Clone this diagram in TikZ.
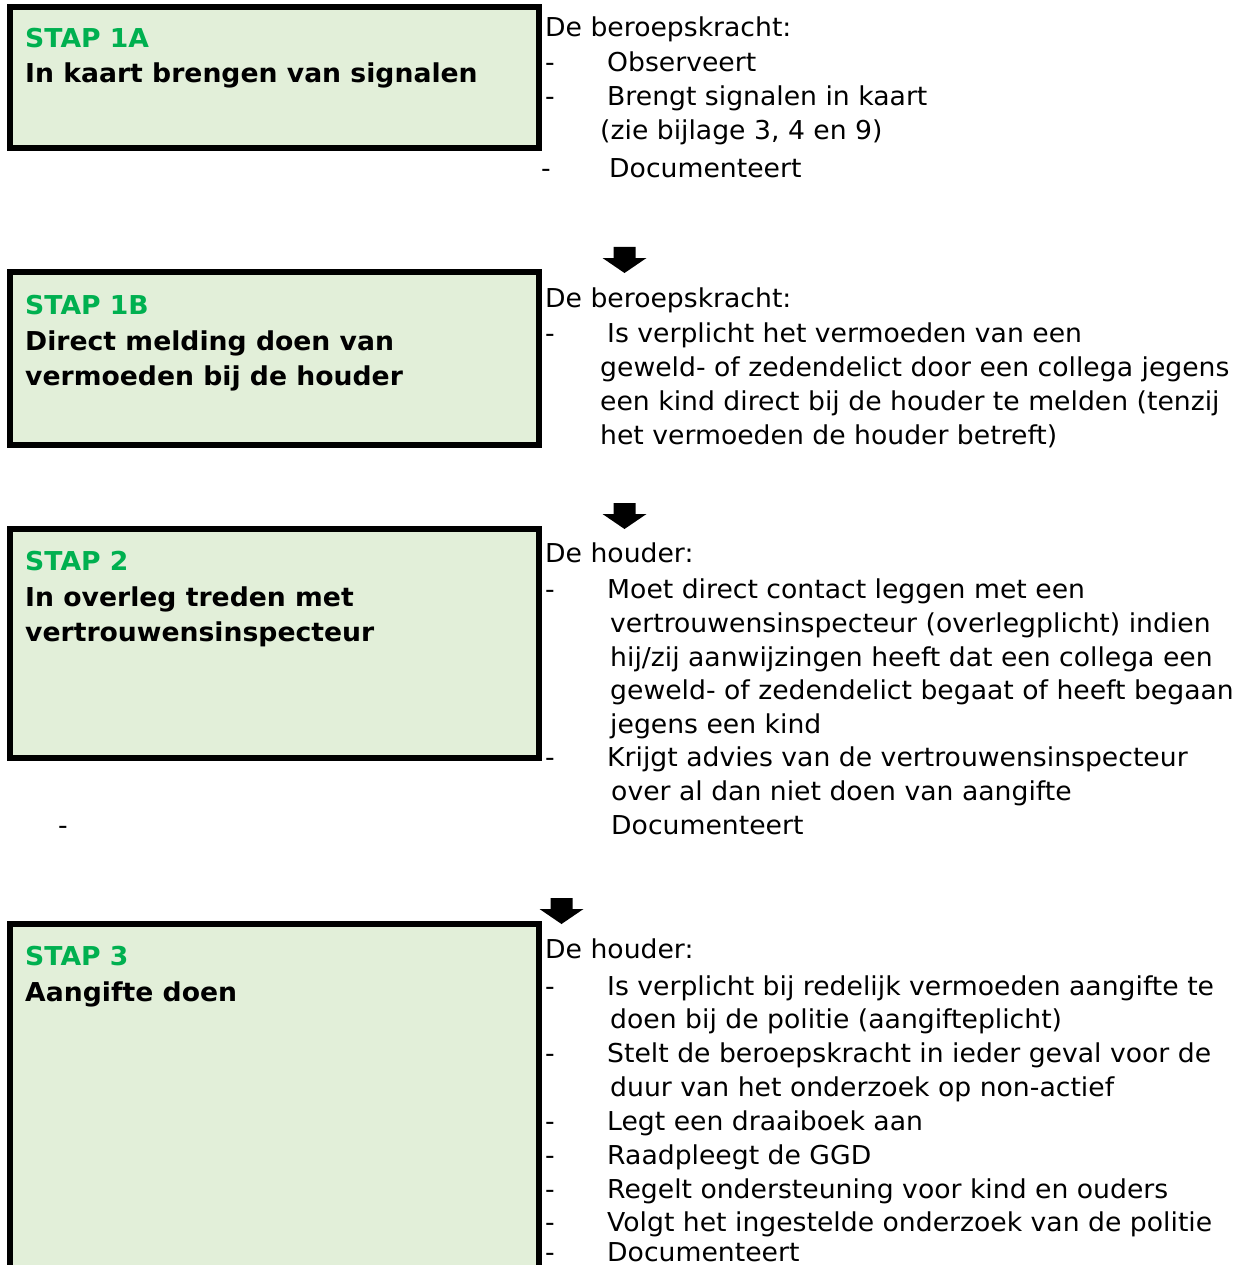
\documentclass[tikz,border=0pt]{standalone}
\usepackage{fontspec}
\setmainfont[FakeStretch=1.025]{DejaVu Sans}
\definecolor{boxfill}{HTML}{E2EFD9}
\definecolor{stapgreen}{HTML}{00B050}
\newcommand{\blockarr}[2]{% x centre, y top
  \fill[black] (#1-11,#2) -- (#1+11,#2) -- (#1+11,#2+11) -- (#1+22,#2+11)
    -- (#1,#2+26) -- (#1-22,#2+11) -- (#1-11,#2+11) -- cycle;}
\begin{document}
\begin{tikzpicture}[x=1pt,y=-1pt,
  stepbox/.style={draw=black, line width=6pt, fill=boxfill, anchor=north west, inner sep=0pt, outer sep=0pt},
  txt/.style={anchor=base west, inner sep=0pt, font=\fontsize{26}{34}\selectfont},
  ttl/.style={anchor=base west, inner sep=0pt, font=\fontsize{26}{34}\selectfont\bfseries},
  stap/.style={ttl, text=stapgreen}]
\useasboundingbox (0,0) rectangle (1241,1265);
\clip (0,0) rectangle (1241,1265);
\fill[white] (0,0) rectangle (1241,1265);

% boxes
\node[stepbox, minimum width=529pt, minimum height=141pt] (b1) at (10,7) {};
\node[stepbox, minimum width=529pt, minimum height=173pt] (b2) at (10,272) {};
\node[stepbox, minimum width=529pt, minimum height=229pt] (b3) at (10,529) {};
\node[stepbox, minimum width=529pt, minimum height=480pt] (b4) at (10,924) {};

% box titles
\node[stap] (s1) at (25,48) {STAP 1A};
\node[ttl] (t1) at (25,83) {In kaart brengen van signalen};
\node[stap] (s2) at (25,314) {STAP 1B};
\node[ttl] (t2a) at (25,350) {Direct melding doen van};
\node[ttl] (t2b) at (25,385) {vermoeden bij de houder};
\node[stap] (s3) at (25,570) {STAP 2};
\node[ttl] (t3a) at (25,606) {In overleg treden met};
\node[ttl] (t3b) at (25,641) {vertrouwensinspecteur};
\node[stap] (s4) at (25,965) {STAP 3};
\node[ttl] (t4) at (25,1001) {Aangifte doen};

% arrows
\blockarr{624.5}{247}
\blockarr{624.5}{503}
\blockarr{561.5}{898}

% text 1
\node[txt] (h1) at (545,37) {De beroepskracht:};
\node[txt] (d11) at (545,72) {-};
\node[txt] (a11) at (607,72) {Observeert};
\node[txt] (d12) at (545,106) {-};
\node[txt] (a12) at (607,106) {Brengt signalen in kaart};
\node[txt] (a12b) at (600,140) {(zie bijlage 3, 4 en 9)};
\node[txt] (d13) at (541,178) {-};
\node[txt] (a13) at (609,178) {Documenteert};

% text 2
\node[txt] (h2) at (545,307) {De beroepskracht:};
\node[txt] (d21) at (545,342) {-};
\node[txt] (a21) at (607,342) {Is verplicht het vermoeden van een};
\node[txt] (a21b) at (600,376) {geweld- of zedendelict door een collega jegens};
\node[txt] (a21c) at (600,410) {een kind direct bij de houder te melden (tenzij};
\node[txt] (a21d) at (600,444) {het vermoeden de houder betreft)};

% text 3
\node[txt] (h3) at (545,562) {De houder:};
\node[txt] (d31) at (545,598) {-};
\node[txt] (a31) at (607,598) {Moet direct contact leggen met een};
\node[txt] (a31b) at (610,632) {vertrouwensinspecteur (overlegplicht) indien};
\node[txt] (a31c) at (610,666) {hij/zij aanwijzingen heeft dat een collega een};
\node[txt] (a31d) at (610,699) {geweld- of zedendelict begaat of heeft begaan};
\node[txt] (a31e) at (610,733) {jegens een kind};
\node[txt] (d32) at (545,766) {-};
\node[txt] (a32) at (607,766) {Krijgt advies van de vertrouwensinspecteur};
\node[txt] (a32b) at (611,800) {over al dan niet doen van aangifte};
\node[txt] (d33) at (58,834) {-};
\node[txt] (a33) at (611,834) {Documenteert};

% text 4
\node[txt] (h4) at (545,958) {De houder:};
\node[txt] (d41) at (545,995) {-};
\node[txt] (a41) at (607,995) {Is verplicht bij redelijk vermoeden aangifte te};
\node[txt] (a41b) at (610,1028) {doen bij de politie (aangifteplicht)};
\node[txt] (d42) at (545,1062) {-};
\node[txt] (a42) at (607,1062) {Stelt de beroepskracht in ieder geval voor de};
\node[txt] (a42b) at (610,1096) {duur van het onderzoek op non-actief};
\node[txt] (d43) at (545,1130) {-};
\node[txt] (a43) at (607,1130) {Legt een draaiboek aan};
\node[txt] (d44) at (545,1164) {-};
\node[txt] (a44) at (607,1164) {Raadpleegt de GGD};
\node[txt] (d45) at (545,1198) {-};
\node[txt] (a45) at (607,1198) {Regelt ondersteuning voor kind en ouders};
\node[txt] (d46) at (545,1231) {-};
\node[txt] (a46) at (607,1231) {Volgt het ingestelde onderzoek van de politie};
\node[txt] (d47) at (545,1261) {-};
\node[txt] (a47) at (607,1261) {Documenteert};
\end{tikzpicture}
\end{document}
